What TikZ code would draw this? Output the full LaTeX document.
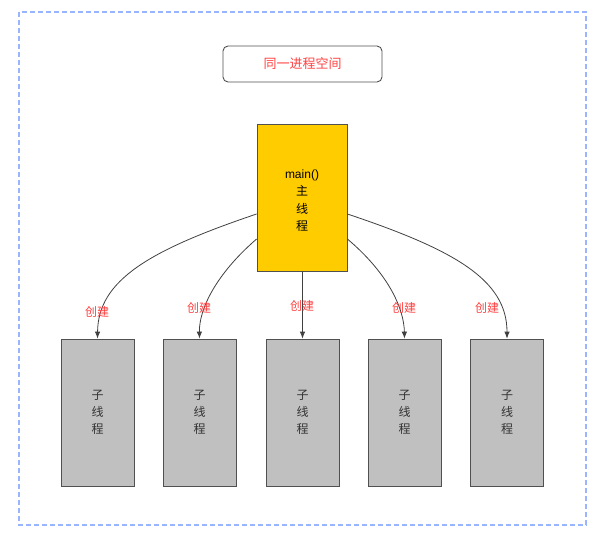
\documentclass[tikz,border=0pt]{standalone}
\usepackage{fontspec}
\setmainfont{Liberation Sans}
\newfontfamily\cjk{Noto Sans CJK SC}
\usetikzlibrary{positioning,arrows.meta}
\tikzset{>={Latex[length=7pt,width=5.5pt]}}
\definecolor{frameblue}{HTML}{99B5FF}
\definecolor{labelred}{HTML}{FF4040}
\definecolor{mainyellow}{HTML}{FFCC00}
\definecolor{childgray}{HTML}{C0C0C0}
\definecolor{edgegray}{HTML}{505050}
\tikzset{
  space/.style={draw=frameblue,dash pattern=on 5pt off 3pt,line width=1.1pt},
  titlebox/.style={draw=edgegray,line width=0.9pt,rounded corners=5pt,minimum width=159pt,minimum height=36pt,text=labelred,font=\cjk\fontsize{13}{15}\selectfont},
  mainbox/.style={draw=edgegray,line width=0.8pt,fill=mainyellow,minimum width=90pt,minimum height=147pt,align=center,font=\fontsize{12}{17.5}\selectfont},
  childbox/.style={draw=edgegray,line width=0.8pt,fill=childgray,minimum width=73pt,minimum height=147pt,align=center,font=\cjk\fontsize{12}{17}\selectfont,text=black!80},
  create/.style={text=labelred,font=\cjk\fontsize{12}{14}\selectfont},
  spawn/.style={->,draw=black!75,line width=0.8pt}
}
\begin{document}
\begin{tikzpicture}[x=1pt,y=-1pt]
\useasboundingbox (0,0) rectangle (605,541);
\draw[space] (19,12) rectangle (586,525);
\node[titlebox] (space) at (302.5,64) {同一进程空间};
\node[mainbox] (main) at (302,197.5) {\rule{0pt}{15pt}main()\\{\cjk 主}\\{\cjk 线}\\{\cjk 程}};
\node[childbox] (t1) at (97.5,412.5) {子\\线\\程};
\node[childbox] (t2) at (199.5,412.5) {子\\线\\程};
\node[childbox] (t3) at (302.5,412.5) {子\\线\\程};
\node[childbox] (t4) at (404.5,412.5) {子\\线\\程};
\node[childbox] (t5) at (507,412.5) {子\\线\\程};
\draw[spawn] ([yshift=-16.5pt]main.west) .. controls (150,250) and (98,280) .. (t1.north);
\draw[spawn] ([yshift=-41.5pt]main.west) .. controls (215,275) and (199,310) .. (t2.north);
\draw[spawn] (main.south -| t3.north) -- (t3.north);
\draw[spawn] ([yshift=-41.5pt]main.east) .. controls (390,275) and (404,310) .. (t4.north);
\draw[spawn] ([yshift=-16.5pt]main.east) .. controls (455,250) and (507,280) .. (t5.north);
\node[create] (c1) at (97,312) {创建};
\node[create] (c2) at (199,308) {创建};
\node[create] (c3) at (302,306) {创建};
\node[create] (c4) at (404,308) {创建};
\node[create] (c5) at (487,308) {创建};
\end{tikzpicture}
\end{document}
